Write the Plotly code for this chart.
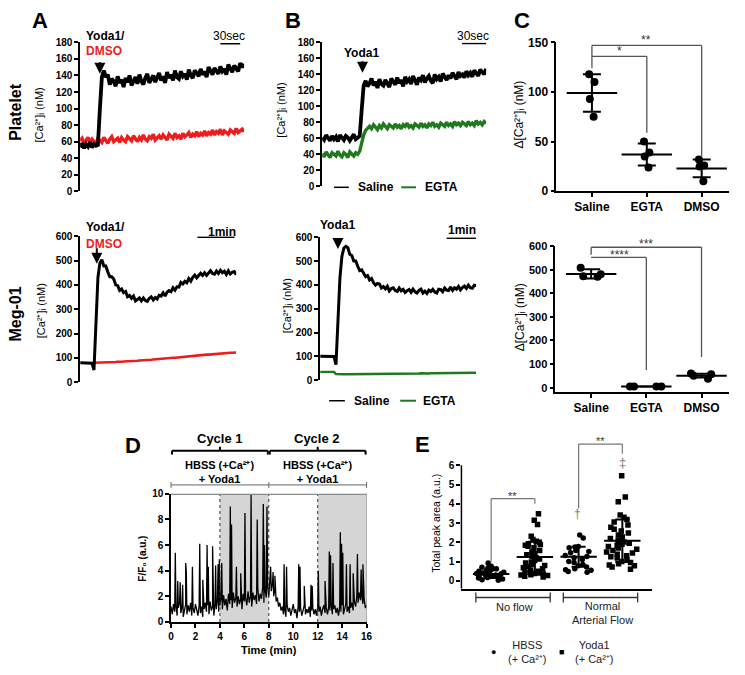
import plotly.graph_objects as go

# page is 745x675; the browser page adds an 8px body margin, so the figure is
# sized to the visible area and every page-pixel position is shifted by OFF.
PAGE_W, PAGE_H = 745, 675
OFF = 8
W, H = PAGE_W - OFF, PAGE_H - OFF
FONT = "Liberation Sans, Arial, Helvetica, sans-serif"
RED = "#ee1c1c"
GREEN = "#1f7a1f"
GRAY = "#555555"

# ---------------- data ----------------
a_top_dt = 3.0
a_top_black = [53, 58, 52, 57, 54, 59, 53, 57, 55, 56, 100, 138,
               146, 138, 141, 129, 136, 133, 127, 139, 131, 135,
               126, 137, 132, 140, 128, 134, 138, 130, 141, 133,
               129, 137, 142, 131, 135, 140, 132, 138, 143, 134,
               139, 131, 144, 137, 141, 134, 146, 138, 136, 145,
               139, 142, 135, 147, 140, 137, 146, 143, 139, 148,
               141, 145, 138, 150, 144, 141, 149, 146, 142, 151,
               145, 148, 141, 153, 147, 144, 152, 149, 145, 155,
               150, 154]
a_top_red = [61, 64, 58, 62, 65, 59, 63, 60, 57, 64,
             62, 59, 65, 61, 58, 63, 66, 60, 62, 64,
             59, 65, 62, 60, 66, 63, 61, 67, 64, 60,
             65, 62, 68, 63, 61, 66, 64, 69, 62, 65,
             67, 63, 68, 65, 62, 69, 66, 64, 70, 65,
             67, 63, 70, 66, 68, 71, 65, 69, 67, 72,
             66, 70, 68, 73, 67, 71, 69, 74, 68, 72,
             70, 75, 68, 73, 71, 69, 74, 72, 70, 76,
             71, 73, 75, 72]

a_bot_dt = 3.2
a_bot_black = [80, 80, 80, 81, 80, 80, 78, 50, 250, 430, 490,
               503, 478, 478, 453, 433, 433, 424, 400, 397, 377,
               383, 368, 373, 351, 356, 345, 354, 334, 342, 346,
               334, 346, 336, 332, 345, 351, 338, 348, 342, 357,
               354, 367, 354, 370, 377, 372, 388, 378, 392, 391,
               410, 404, 415, 409, 426, 415, 431, 440, 429, 437,
               448, 439, 450, 439, 450, 458, 447, 444, 457, 447,
               460, 450, 456, 443, 458, 445, 452, 455, 442]
a_bot_red = [None] * 7 + [
    80, 80, 81, 80, 81, 81, 82, 81, 82, 82,
    83, 83, 84, 83, 84, 85, 85, 86, 86, 87,
    87, 88, 88, 89, 89, 90, 91, 91, 92, 92,
    93, 94, 94, 95, 96, 96, 97, 98, 98, 99,
    100, 100, 101, 102, 103, 103, 104, 105, 106, 106,
    107, 108, 109, 110, 110, 111, 112, 113, 113, 114,
    115, 116, 116, 117, 118, 118, 119, 120, 120, 121,
    121, 122, 122]

b_top_dt = 2.4
b_top_saline = [61, 58, 64, 60, 57, 63, 59, 62, 56, 64,
                60, 58, 63, 61, 57, 62, 65, 59, 61, 63, 95, 126,
                132, 125, 129, 135, 126, 131, 123, 134, 128, 126,
                133, 129, 124, 135, 131, 127, 136, 129, 133, 125,
                137, 131, 134, 128, 138, 132, 127, 136, 133, 139,
                130, 135, 138, 132, 129, 140, 134, 137, 131, 141,
                136, 133, 139, 135, 142, 137, 134, 143, 138, 140,
                136, 144, 139, 142, 137, 145, 141, 138, 146, 143,
                140, 147]
b_top_egta = [41, 37, 43, 39, 36, 42, 40, 38, 44, 39,
              37, 42, 40, 36, 43, 41, 38, 42, 40, 44, 55, 64, 70, 73,
              75, 72, 77, 74, 71, 76, 73, 78, 74, 72,
              77, 75, 73, 78, 74, 76, 72, 77, 75, 79,
              74, 76, 73, 78, 76, 74, 79, 75, 77, 73,
              78, 76, 80, 75, 77, 74, 79, 77, 75, 80,
              76, 78, 75, 81, 77, 79, 76, 80, 78, 76,
              81, 77, 79, 76, 82, 78, 80, 77, 81, 79]

b_bot_dt = 4.0
b_bot_saline = [100, 100, 101, 100, 100, 101, 100, 99, 65, 250, 430, 520, 555, 562,
                556, 528, 523, 500, 500, 478, 460, 463, 449, 434,
                439, 421, 427, 409, 399, 406, 404, 387, 393, 383,
                394, 375, 385, 388, 376, 373, 387, 375, 381, 368,
                376, 381, 369, 382, 371, 366, 377, 382, 366, 374,
                364, 378, 372, 381, 370, 366, 382, 380, 371, 387,
                378, 376, 391, 377, 388, 382, 393, 379, 389, 395,
                385, 399, 388, 386, 399, 397]
b_bot_egta = [35, 35, 36, 35, 35, 36, 35, 35,
              26, 25, 25, 26, 25, 25, 25, 26, 25, 25,
              25, 26, 25, 25, 26, 25, 26, 26, 25, 26,
              26, 26, 27, 26, 26, 27, 26, 27, 27, 26,
              27, 27, 27, 28, 27, 27, 28, 27, 28, 28,
              28, 28, 28, 29, 28, 28, 29, 28, 29, 29,
              29, 29, 29, 30, 29, 29, 30, 29, 30, 30,
              30, 30, 30, 30, 31, 30, 30, 31, 30, 31,
              31, 31]

c_groups = ["Saline", "EGTA", "DMSO"]
c_top_points = [[118, 110, 93, 75], [50, 39, 35, 24], [32, 26, 25, 10]]
c_top_mean = [99, 37, 23]
c_top_sd = [19, 11, 9]
c_bot_points = [[508, 480, 472, 470], [5, 5, 5, 5], [60, 57, 50, 38]]
c_bot_mean = [482, 5, 51]
c_bot_sd = [20, 0, 8]

d_base_y = [1.2, 0.6, 1.4, 0.8, 1.3, 0.5, 1.1, 1.5, 0.7, 1.2, 0.4, 1.0, 1.4, 0.6,
            1.3, 0.8, 1.5, 0.5, 1.1, 0.7, 1.4, 0.9, 0.5, 1.3, 0.7, 1.2, 0.4, 1.0,
            1.5, 0.8, 1.3, 0.6, 1.6, 0.9, 1.2, 0.5, 1.4, 1.0, 1.7, 0.8, 1.3,
            1.9, 1.0, 2.1, 1.3, 1.8, 0.9, 2.2, 1.4, 1.7, 1.1, 2.3, 1.5, 1.9, 1.2,
            2.0, 1.4, 1.8, 1.0, 2.2, 1.6, 1.9, 1.3, 2.4, 1.5, 2.0, 1.2, 2.3, 1.7,
            2.1, 1.4, 2.6, 1.6, 2.2, 1.8, 2.7, 1.5, 2.4, 1.9, 2.8, 2.0,
            3.5, 2.4, 3.0, 2.0, 2.6, 1.6, 1.9, 1.2, 1.5, 0.9,
            1.2, 0.6, 1.0, 0.4, 1.3, 0.8, 1.1, 0.5, 0.9, 1.4, 0.7, 1.0, 0.3, 1.2,
            0.8, 1.1, 0.5, 0.9, 1.3, 0.6, 1.0, 0.7, 1.2, 0.4, 0.9, 1.1, 0.6, 1.0,
            0.5, 1.2,
            0.8, 1.2, 0.5, 1.0, 1.3, 0.7, 1.1, 0.6, 1.2, 0.9, 1.4, 0.6, 1.0, 1.3,
            0.7, 1.1, 0.5, 1.2, 0.8, 1.3, 0.6, 1.0, 1.4, 0.8, 1.2, 0.7, 1.1, 1.5,
            0.9, 1.6, 1.2, 2.0, 1.5, 2.3, 1.7, 2.1, 1.4, 1.8, 1.1, 1.3]
d_spike_t = [0.35, 0.55, 0.75, 0.95, 1.2, 1.25, 1.75, 2.35, 2.6, 2.95, 3.05, 3.4,
             3.65, 3.85, 3.95, 4.15, 4.85, 4.95, 5.35, 5.7, 6.05, 6.55, 7.05, 7.55,
             7.65, 7.85, 8.15, 8.35, 8.5, 9.25, 9.45, 10.45, 10.55, 10.9, 11.45,
             11.55, 12.05, 12.6, 12.95, 13.05, 13.25, 13.85, 13.95, 14.05, 14.35,
             14.65, 14.9, 15.25, 15.55, 15.7]
d_spike_y = [5.4, 3.2, 3.1, 2.9, 4.6, 3.9, 4.3, 6.1, 3.3, 6.0, 4.3, 5.9,
             4.4, 4.5, 4.9, 4.6, 9.0, 7.6, 4.3, 3.8, 8.5, 9.9, 8.0, 9.2,
             6.0, 9.0, 4.3, 3.9, 3.6, 4.5, 4.3, 4.5, 4.3, 2.8, 2.9,
             2.8, 4.0, 3.2, 5.5, 5.2, 4.6, 7.0, 6.1, 5.4, 4.5,
             4.5, 3.8, 5.3, 4.1, 4.5]

e_groups = ["HBSS no flow", "Yoda1 no flow", "HBSS flow", "Yoda1 flow"]
e_hbss_noflow = [0.92, 0.75, 0.7, 0.68, 0.65, 0.62, 0.58, 0.55, 0.5, 0.47, 0.44,
                 0.41, 0.38, 0.36, 0.33, 0.3, 0.28, 0.26, 0.24, 0.22, 0.2, 0.17,
                 0.14, 0.1, 0.06, 0.03]
e_yoda_noflow = [3.48, 3.15, 2.93, 2.32, 2.15, 2.06, 2.0, 1.93, 1.88, 1.84, 1.8,
                 1.72, 1.58, 1.5, 1.42, 1.35, 1.28, 1.2, 1.13, 1.05, 0.98, 0.92,
                 0.86, 0.8, 0.74, 0.68, 0.62, 0.56, 0.5, 0.46, 0.43, 0.4, 0.38,
                 0.35, 0.32, 0.3, 0.27, 0.24, 0.2]
e_hbss_flow = [2.38, 2.22, 1.78, 1.75, 1.72, 1.58, 1.52, 1.46, 1.32, 1.26, 1.2,
               1.1, 1.0, 0.95, 0.85, 0.78, 0.72, 0.62, 0.58, 0.55, 0.48, 0.44]
e_yoda_flow = [5.45, 4.35, 4.1, 3.42, 3.3, 3.18, 3.05, 2.9, 2.78, 2.68, 2.58, 2.48,
               2.38, 2.28, 2.2, 2.1, 2.02, 1.95, 1.9, 1.84, 1.78, 1.7, 1.64, 1.58,
               1.5, 1.45, 1.38, 1.3, 1.25, 1.18, 1.1, 1.0, 0.95, 0.88, 0.82, 0.78,
               0.72, 0.6]
e_mean = [0.35, 1.23, 1.25, 2.08]
e_sd = [0.2, 0.8, 0.52, 1.1]


# ---------------- helpers (page pixels -> paper) ----------------
def fx(px):
    return (px - OFF) / W


def fy(py):
    return 1 - (py - OFF) / H


def xdom(p0, p1):
    return [fx(p0), fx(p1)]


def ydom(top, bot):
    return [fy(bot), fy(top)]


def font(size, bold=False, color="black"):
    return dict(family=FONT, size=size, color=color, weight="bold" if bold else "normal")


def ann(text, px, py, size=12, bold=False, color="black", xa="center", ya="middle", angle=0):
    return dict(text=text, x=fx(px), y=fy(py), xref="paper", yref="paper",
                showarrow=False, font=font(size, bold, color), xanchor=xa,
                yanchor=ya, textangle=angle, align="center")


def times(arr, dt):
    return [i * dt for i in range(len(arr))]


fig = go.Figure()


def line(x, y, color, width, ax):
    fig.add_trace(go.Scatter(x=x, y=y, mode="lines",
                             line=dict(color=color, width=width, shape="linear"),
                             xaxis="x" + ax, yaxis="y" + ax, showlegend=False,
                             connectgaps=False))


line(times(a_top_red, a_top_dt), a_top_red, RED, 3.4, "")
line(times(a_top_black, a_top_dt), a_top_black, "black", 3.8, "")
line(times(a_bot_red, a_bot_dt), a_bot_red, RED, 2.6, "2")
line(times(a_bot_black, a_bot_dt), a_bot_black, "black", 3.0, "2")
line(times(b_top_egta, b_top_dt), b_top_egta, GREEN, 3.4, "3")
line(times(b_top_saline, b_top_dt), b_top_saline, "black", 3.8, "3")
line(times(b_bot_egta, b_bot_dt), b_bot_egta, GREEN, 2.4, "4")
line(times(b_bot_saline, b_bot_dt), b_bot_saline, "black", 3.0, "4")


def dots(cat, vals, ax, size, symbol, width, jitter):
    fig.add_trace(go.Box(x=[cat] * len(vals), y=vals, boxpoints="all", jitter=jitter,
                         pointpos=0, width=width, line=dict(width=0, color="black"),
                         fillcolor="rgba(0,0,0,0)",
                         marker=dict(color="black", size=size, symbol=symbol),
                         xaxis="x" + ax, yaxis="y" + ax, showlegend=False))


def meansd(cats, means, sds, ax, barsize, capw):
    fig.add_trace(go.Scatter(x=cats, y=means, mode="markers",
                             marker=dict(symbol="line-ew", size=barsize, color="black",
                                         line=dict(width=2, color="black")),
                             error_y=dict(type="data", array=sds, width=capw,
                                          thickness=2, color="black"),
                             xaxis="x" + ax, yaxis="y" + ax, showlegend=False))


for g, pts in zip(c_groups, c_top_points):
    dots(g, pts, "5", 8, "circle", 0.2, 0.6)
meansd(c_groups, c_top_mean, c_top_sd, "5", 36, 9)
for g, pts, wd in zip(c_groups, c_bot_points, [0.45, 0.7, 0.45]):
    dots(g, pts, "6", 8, "circle", wd, 1.0)
meansd(c_groups, c_bot_mean, c_bot_sd, "6", 36, 9)

d_base_t = [i / 10 for i in range(len(d_base_y))]
d_pairs = sorted(zip(d_base_t + d_spike_t, d_base_y + d_spike_y))
fig.add_trace(go.Scatter(x=[p[0] for p in d_pairs], y=[p[1] for p in d_pairs],
                         mode="lines", line=dict(color="black", width=1.3),
                         xaxis="x7", yaxis="y7", showlegend=False))

for g, vals, sym in zip(e_groups, [e_hbss_noflow, e_yoda_noflow, e_hbss_flow, e_yoda_flow],
                        ["circle", "square", "circle", "square"]):
    dots(g, vals, "8", 5.5, sym, 0.75, 1.0)
meansd(e_groups, e_mean, e_sd, "8", 26, 7)


def yax(dom, rng, dtick=None, tickvals=None, size=10, showline=True, anchor="x"):
    d = dict(domain=dom, range=rng, showline=showline, linecolor="black", linewidth=1.5,
             ticks="outside", ticklen=4, tickwidth=1.5, tickcolor="black",
             showgrid=False, zeroline=False, tickfont=font(size, True), anchor=anchor,
             fixedrange=True)
    if dtick is not None:
        d["dtick"] = dtick
        d["tick0"] = 0
    if tickvals is not None:
        d["tickvals"] = tickvals
    return d


def xhidden(dom, rng, anchor):
    return dict(domain=dom, range=rng, visible=False, anchor=anchor, fixedrange=True)


def xcat(dom, rng, cats, anchor, labels=True, ticks="outside"):
    return dict(domain=dom, range=rng, type="category", categoryorder="array",
                categoryarray=cats, showline=True, linecolor="black", linewidth=1.5,
                ticks=ticks, ticklen=4, tickwidth=1.5, tickcolor="black",
                showgrid=False, zeroline=False, showticklabels=labels,
                tickfont=font(12, True), anchor=anchor, fixedrange=True)


layout = dict(
    width=W, height=H, margin=dict(l=0, r=0, t=0, b=0),
    paper_bgcolor="white", plot_bgcolor="white", font=font(11),
    boxmode="overlay",
    xaxis=xhidden(xdom(78, 244), [0, (len(a_top_black) - 1) * a_top_dt], "y"),
    yaxis=yax(ydom(36, 188), [0, 180], dtick=20, anchor="x"),
    xaxis2=xhidden(xdom(78, 236), [0, (len(a_bot_black) - 1) * a_bot_dt], "y2"),
    yaxis2=yax(ydom(234, 383), [0, 600], dtick=100, anchor="x2"),
    xaxis3=xhidden(xdom(323, 489), [0, (len(b_top_saline) - 1) * b_top_dt], "y3"),
    yaxis3=yax(ydom(36, 183), [0, 180], dtick=20, anchor="x3"),
    xaxis4=xhidden(xdom(321, 479), [0, (len(b_bot_saline) - 1) * b_bot_dt], "y4"),
    yaxis4=yax(ydom(235, 381), [0, 600], dtick=100, anchor="x4"),
    xaxis5=xcat(xdom(560, 735), [-0.65, 2.5], c_groups, "y5"),
    yaxis5=yax(ydom(36, 188), [0, 150], tickvals=[0, 50, 100, 150], size=12, anchor="x5"),
    xaxis6=xcat(xdom(559, 735), [-0.65, 2.5], c_groups, "y6"),
    yaxis6=yax(ydom(244, 393), [-18, 600], dtick=100, size=11, anchor="x6"),
    xaxis7=dict(domain=xdom(170, 368), range=[0, 16], dtick=2, tick0=0, showline=True,
                linecolor="black", linewidth=1.5, ticks="outside", ticklen=4,
                tickwidth=1.5, tickcolor="black", showgrid=False, zeroline=False,
                tickfont=font(10, True), anchor="y7", fixedrange=True),
    yaxis7=yax(ydom(497, 628), [0, 10], dtick=2, size=10, anchor="x7"),
    xaxis8=xcat(xdom(464, 657), [-0.68, 3.68], e_groups, "y8", labels=False, ticks=""),
    yaxis8=yax(ydom(440, 594), [-0.41, 7.42], tickvals=[0, 1, 2, 3, 4, 5, 6], size=10,
               showline=False, anchor="x8"),
)

shapes = []


def seg(x0, y0, x1, y1, xref, yref, color="black", width=1.5, dash="solid"):
    shapes.append(dict(type="line", x0=x0, y0=y0, x1=x1, y1=y1, xref=xref, yref=yref,
                       line=dict(color=color, width=width, dash=dash)))


def pseg(px0, py0, px1, py1, color="black", width=1.5):
    seg(fx(px0), fy(py0), fx(px1), fy(py1), "paper", "paper", color, width)


# time scale bars (30 s / 60 s)
seg(213, 178.5, 243, 178.5, "x", "y", width=1.5)
seg(190, 596, 250, 596, "x2", "y2", width=1.5)
seg(170, 178.5, 200, 178.5, "x3", "y3", width=1.5)
seg(256, 596, 316, 596, "x4", "y4", width=1.5)

# B legend keys
pseg(335, 184, 350, 184)
pseg(403, 184, 418, 184, GREEN, 2)
pseg(330, 402, 346, 402)
pseg(402, 402, 418, 402, GREEN, 2)

# C significance brackets
for ax, top, low, s_end, e_end, d_end in [("5", 147, 136, 124, 59, 35),
                                          ("6", 595, 552, 563, 75, 130)]:
    xr, yr = "x" + ax, "y" + ax
    seg(0, top, 2, top, xr, yr, GRAY, 1.3)
    seg(0, top, 0, s_end, xr, yr, GRAY, 1.3)
    seg(0, low, 1, low, xr, yr, GRAY, 1.3)
    seg(1, low, 1, e_end, xr, yr, GRAY, 1.3)
    seg(2, top, 2, d_end, xr, yr, GRAY, 1.3)

# D shading, dotted separators and frame
for a, b in [(4, 8), (12, 16)]:
    shapes.append(dict(type="rect", x0=a, x1=b, y0=0, y1=10, xref="x7", yref="y7",
                       fillcolor="#d5d5d5", line=dict(width=0), layer="below"))
for t in [4, 8, 12]:
    seg(t, 0, t, 10, "x7", "y7", "#333333", 1, "dot")
seg(16, 0, 16, 10, "x7", "y7", "#777777", 1)
seg(0, 10, 1, 10, "x7 domain", "y7", "#8a8a8a", 2.5)


def dpx(t):
    return 170 + t / 16 * 198


for a, b in [(0, 8), (8, 16)]:
    x0, x1, xc = dpx(a) + 1, dpx(b) - 1, dpx((a + b) / 2)
    pseg(x0, 457, x0, 453, width=2)
    pseg(x0, 453, x1, 453, width=2)
    pseg(x1, 453, x1, 457, width=2)
    pseg(xc, 453, xc, 449, width=2)
pseg(dpx(0), 488, dpx(16), 488, "#666666", 1)
for t in [0, 8, 16]:
    pseg(dpx(t), 485, dpx(t), 491, "#666666", 1)

# E y-axis line (0 to 6 only) and brackets
seg(0, -0.41, 0, 6, "x8 domain", "y8", "black", 1.5)
seg(0, 4.27, 1, 4.27, "x8", "y8", "#777777", 1.2)
seg(0, 4.27, 0, 0.97, "x8", "y8", "#777777", 1.2)
seg(1, 4.27, 1, 4.0, "x8", "y8", "#777777", 1.2)
seg(2, 7.1, 3, 7.1, "x8", "y8", "#777777", 1.2)
seg(2, 7.1, 2, 3.75, "x8", "y8", "#777777", 1.2)
seg(3, 7.1, 3, 6.6, "x8", "y8", "#777777", 1.2)


def epx(c):
    return 464 + (c + 0.68) / 4.36 * 193


for a, b in [(-0.35, 1.35), (1.65, 3.35)]:
    pseg(epx(a), 603, epx(b), 603, "#333333", 1.3)
    pseg(epx(a), 598, epx(a), 608, "#333333", 1.3)
    pseg(epx(b), 598, epx(b), 608, "#333333", 1.3)

layout["shapes"] = shapes

CA = "[Ca\u00b2\u207a]\u1d62 (nM)"
anns = [
    ann("<b>A</b>", 37, 14, 22), ann("<b>B</b>", 293, 14, 22), ann("<b>C</b>", 525, 14, 22),
    ann("<b>D</b>", 132, 448, 22), ann("<b>E</b>", 425, 447, 22),
    ann("<b>Platelet</b>", 13, 107, 16, angle=-90),
    ann("<b>Meg-01</b>", 13, 313, 16, angle=-90),
    ann(CA, 36, 110, 11, angle=-90), ann(CA, 38, 310, 11, angle=-90),
    ann(CA, 281, 105, 11, angle=-90), ann(CA, 287, 305, 11, angle=-90),
    ann("\u0394" + CA, 522, 110, 12, angle=-90), ann("\u0394" + CA, 523, 317, 12, angle=-90),
    ann("<b>Yoda1/</b>", 82, 29, 12, xa="left"),
    ann("<b>DMSO</b>", 82, 45, 12, color=RED, xa="left"),
    ann("<b>Yoda1/</b>", 82, 225, 12, xa="left"),
    ann("<b>DMSO</b>", 82, 242, 12, color=RED, xa="left"),
    ann("<b>Yoda1</b>", 363, 47, 12), ann("<b>Yoda1</b>", 339, 222, 12),
    ann("30sec", 229, 29, 12), ann("30sec", 476, 29, 12),
    ann("<b>1min</b>", 222, 230, 12), ann("<b>1min</b>", 465, 228, 12),
    ann("<b>Saline</b>", 357, 184, 12, xa="left"), ann("<b>EGTA</b>", 425, 184, 12, xa="left"),
    ann("<b>Saline</b>", 353, 402, 12, xa="left"), ann("<b>EGTA</b>", 423, 402, 12, xa="left"),
    ann("**", 651, 34, 12, color="#333"), ann("*", 624, 45, 12, color="#333"),
    ann("***", 651, 242, 12, color="#333"), ann("****", 624, 253, 12, color="#333"),
    ann("<b>Cycle 1</b>", 220, 441, 13), ann("<b>Cycle 2</b>", 318, 441, 13),
    ann("<b>HBSS (+Ca\u00b2\u207a)<br>+ Yoda1</b>", 219, 475, 11),
    ann("<b>HBSS (+Ca\u00b2\u207a)<br>+ Yoda1</b>", 318, 475, 11),
    ann("<b>F/F\u2080 (a.u.)</b>", 141, 563, 10, angle=-90),
    ann("<b>Time (min)</b>", 269, 657, 11),
    ann("Total peak area (a.u.)", 438, 527, 10.5, angle=-90),
    ann("**", 516, 499, 11, color="#333"), ann("**", 605, 443, 11, color="#333"),
    ann("\u2020", 582, 518, 12, color="#777"), ann("\u2021", 627, 465, 13, color="#777"),
    ann("No flow", 518, 613, 11, color="#222"),
    ann("Normal<br>Arterial Flow", 607, 619, 11, color="#222"),
    ann("\u25cf", 496, 659, 9), ann("HBSS<br>(+ Ca\u00b2\u207a)", 531, 659, 11, color="#222"),
    ann("\u25a0", 565, 659, 9), ann("Yoda1<br>(+ Ca\u00b2\u207a)", 599, 659, 11, color="#222"),
]

for ax, x, y, ay in [("", 30, 142, -13), ("2", 27, 487, -17),
                     ("3", 49, 142, -13), ("4", 36, 551, -12)]:
    anns.append(dict(x=x, y=y, xref="x" + ax, yref="y" + ax, text="", showarrow=True,
                     ax=0, ay=ay, arrowhead=2, arrowsize=1.1, arrowwidth=2,
                     arrowcolor="black"))

layout["annotations"] = anns
fig.update_layout(**layout)
fig.write_html("out.html")
